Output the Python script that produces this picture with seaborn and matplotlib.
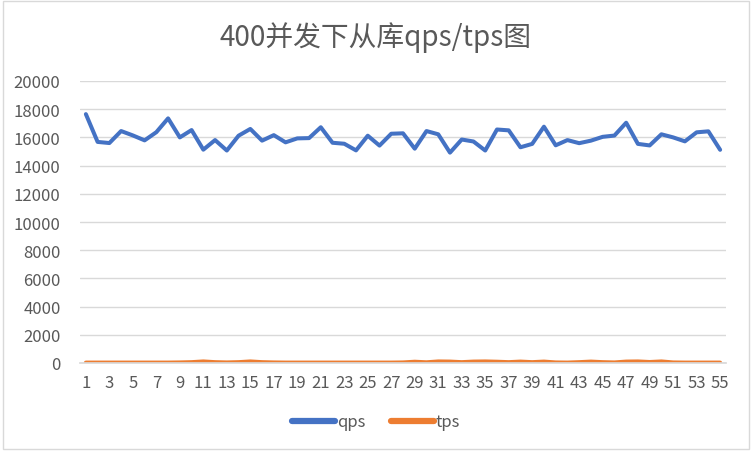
import pandas as pd
import seaborn as sns
import numpy as np
import matplotlib.pyplot as plt
from matplotlib.patches import Rectangle

# data
idx = list(range(1, 56))
qps = [17650, 15680, 15600, 16450, 16140, 15790, 16370, 17350, 16000, 16520,
       15130, 15810, 15070, 16120, 16600, 15770, 16160, 15650, 15930, 15950,
       16720, 15620, 15550, 15080, 16120, 15420, 16260, 16290, 15200, 16450,
       16220, 14920, 15850, 15710, 15070, 16560, 16500, 15300, 15540, 16760,
       15440, 15810, 15590, 15770, 16040, 16130, 17040, 15540, 15430, 16220,
       16000, 15720, 16360, 16430, 15120]
tps = [30, 30, 30, 30, 30, 30, 30, 30, 40, 60,
       110, 60, 40, 60, 110, 60, 40, 30, 30, 30,
       30, 30, 30, 30, 30, 30, 30, 40, 90, 50,
       110, 100, 60, 100, 110, 90, 60, 100, 60, 100,
       40, 30, 60, 100, 60, 40, 100, 110, 70, 110,
       40, 30, 30, 30, 30]
series = ['qps', 'tps']

df = pd.DataFrame({'x': idx * 2,
                   'value': qps + tps,
                   'series': ['qps'] * len(qps) + ['tps'] * len(tps)})

sns.set_theme(style='white')
plt.rcParams['font.family'] = ['Noto Sans CJK SC', 'DejaVu Sans']

txt = '#595959'
grid = '#D9D9D9'

fig = plt.figure(figsize=(7.52, 4.52), dpi=100)
ax = fig.add_axes([80 / 752, (452 - 364) / 452, (726 - 80) / 752, (364 - 82) / 452])

sns.lineplot(data=df, x='x', y='value', hue='series', hue_order=series,
             palette=['#4472C4', '#ED7D31'], linewidth=2.9, ax=ax,
             legend=False)

ax.set_xlim(0.5, 55.5)
ax.set_ylim(0, 20000)
ax.set_yticks(range(0, 20001, 2000))
ax.set_xticks(idx)
ax.set_xticklabels([str(i) if i % 2 == 1 else '' for i in idx])
ax.yaxis.grid(True, color=grid, linewidth=1)
ax.set_axisbelow(True)
ax.tick_params(axis='both', length=0, labelsize=12, labelcolor=txt)
ax.tick_params(axis='y', pad=14)
ax.tick_params(axis='x', pad=8)
for s in ['top', 'right', 'left']:
    ax.spines[s].set_visible(False)
ax.spines['bottom'].set_color(grid)
ax.set_xlabel('')
ax.set_ylabel('')

for ln in ax.lines:
    ln.set_solid_joinstyle('round')
handles = [plt.Line2D([], [], color=c, linewidth=4.5, solid_capstyle='round')
           for c in ['#4472C4', '#ED7D31']]
leg = fig.legend(handles, series, loc='center', bbox_to_anchor=(0.5, (452 - 423) / 452),
                 ncol=2, frameon=False, fontsize=12, handlelength=2.6,
                 handletextpad=0.1, columnspacing=1.5)
for t in leg.get_texts():
    t.set_color(txt)

fig.text(0.5, (452 - 38) / 452, '400并发下从库qps/tps图', ha='center', va='center',
         fontsize=20, color=txt)

fig.patches.append(Rectangle((0.004, 0.004), 0.992, 0.992, transform=fig.transFigure,
                             fill=False, edgecolor=grid, linewidth=1))

fig.savefig('out.png', dpi=100)
